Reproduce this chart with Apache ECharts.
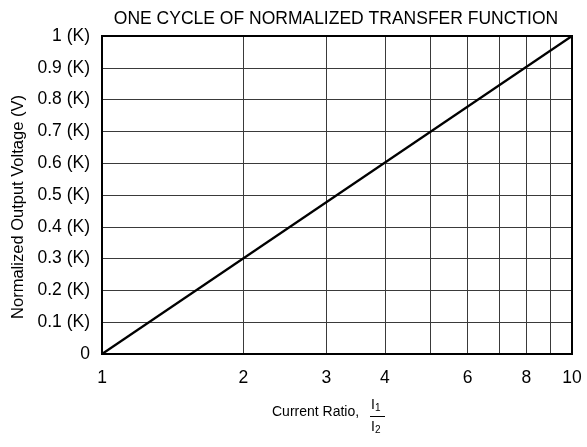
<!DOCTYPE html>
<html>
<head>
<meta charset="utf-8">
<script src="https://cdn.jsdelivr.net/npm/echarts@6/dist/echarts.min.js"></script>
<style>
html,body{margin:0;padding:0;background:#fff;}
#c{width:587px;height:447px;}
</style>
</head>
<body>
<div id="c"></div>
<script>
// Data
var ratioValues = [1, 10];
var outputValues = [0, 1];
var xGridValues = [1, 2, 3, 4, 5, 6, 7, 8, 9, 10];
var xLabelValues = [1, 2, 3, 4, 6, 8, 10];
var titleText = 'ONE CYCLE OF NORMALIZED TRANSFER FUNCTION';
var yAxisName = 'Normalized Output Voltage (V)';

var FONT = '"Liberation Sans", Arial, sans-serif';
var chart = echarts.init(document.getElementById('c'), null, {renderer: 'canvas'});

var seriesData = ratioValues.map(function (r, i) { return [r, outputValues[i]]; });

var richSub = {
  i: {fontFamily: FONT, fontSize: 14, fill: '#000'},
  s: {fontFamily: FONT, fontSize: 10, fill: '#000', verticalAlign: 'bottom', padding: [7, 0, 0, 0]}
};

chart.setOption({
  animation: false,
  backgroundColor: '#fff',
  title: {
    text: titleText,
    left: 331, top: 5, textAlign: 'center',
    textStyle: {fontFamily: FONT, fontSize: 17.5, fontWeight: 'normal', color: '#000'}
  },
  grid: {left: 102, right: 15, top: 36, bottom: 93, containLabel: false, outerBoundsMode: 'none'},
  xAxis: {
    type: 'log', logBase: 10, min: 1, max: 10,
    axisLine: {show: true, onZero: false, lineStyle: {color: '#000', width: 2}},
    axisTick: {show: false, customValues: xGridValues},
    splitLine: {show: true, lineStyle: {color: '#3a3a3a', width: 1}},
    axisLabel: {
      customValues: xLabelValues, margin: 15,
      fontFamily: FONT, fontSize: 17.5, color: '#000',
      formatter: function (v) { return String(Math.round(v)); }
    }
  },
  yAxis: {
    type: 'value', min: 0, max: 1, interval: 0.1,
    name: yAxisName, nameLocation: 'middle', nameGap: 74,
    nameTextStyle: {fontFamily: FONT, fontSize: 16.5, color: '#000', padding: [0, 24, 0, 0]},
    axisLine: {show: true, lineStyle: {color: '#000', width: 2}},
    axisTick: {show: false},
    splitLine: {show: true, lineStyle: {color: '#3a3a3a', width: 1}},
    axisLabel: {
      margin: 12, fontFamily: FONT, fontSize: 17.5, color: '#000',
      formatter: function (v) {
        var r = Math.round(v * 10) / 10;
        return r === 0 ? '0' : (r + ' (K)');
      }
    }
  },
  graphic: [
    {type: 'rect', shape: {x: 102, y: 36, width: 470, height: 318}, style: {fill: 'none', stroke: '#000', lineWidth: 2}, z: 100, silent: true},
    {type: 'text', left: 272, top: 405, style: {text: 'Current Ratio,', fontFamily: FONT, fontSize: 14, fill: '#000'}},
    {type: 'text', left: 371, top: 398, style: {text: '{i|I}{s|1}', rich: richSub}},
    {type: 'line', shape: {x1: 370, y1: 416.5, x2: 385, y2: 416.5}, style: {stroke: '#000', lineWidth: 1}},
    {type: 'text', left: 371, top: 420, style: {text: '{i|I}{s|2}', rich: richSub}}
  ],
  series: [{
    type: 'line',
    data: seriesData,
    showSymbol: false,
    lineStyle: {color: '#000', width: 2.2},
    z: 50
  }]
});
</script>
</body>
</html>
